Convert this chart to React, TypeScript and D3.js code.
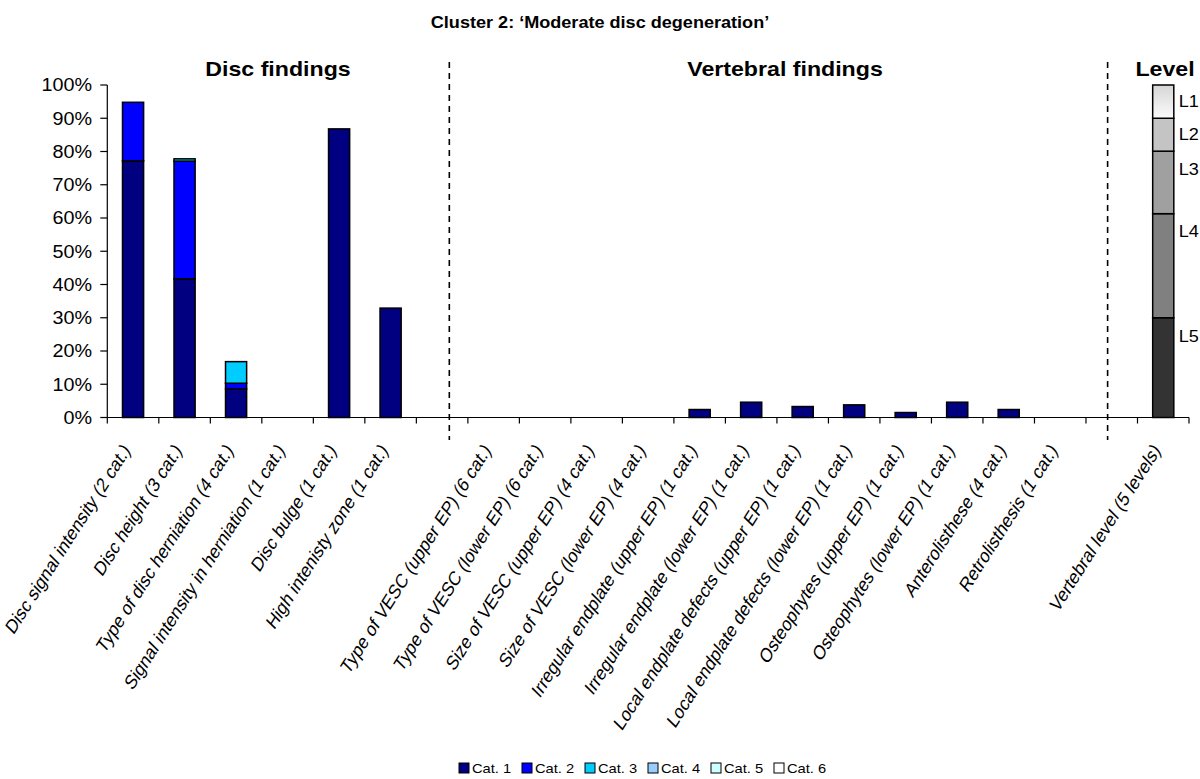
import React from "react";
import * as d3 from "d3";

const discFindings = [
  "Disc signal intensity (2 cat.)",
  "Disc height (3 cat.)",
  "Type of disc herniation (4 cat.)",
  "Signal intensity in herniation (1 cat.)",
  "Disc bulge (1 cat.)",
  "High intenisty zone (1 cat.)",
];
const vertebralFindings = [
  "Type of VESC (upper EP) (6 cat.)",
  "Type of VESC (lower EP) (6 cat.)",
  "Size of VESC (upper EP) (4 cat.)",
  "Size of VESC (lower EP) (4 cat.)",
  "Irregular endplate (upper EP) (1 cat.)",
  "Irregular endplate (lower EP) (1 cat.)",
  "Local endplate defects (upper EP) (1 cat.)",
  "Local endplate defects (lower EP) (1 cat.)",
  "Osteophytes (upper EP) (1 cat.)",
  "Osteophytes (lower EP) (1 cat.)",
  "Anterolisthese (4 cat.)",
  "Retrolisthesis (1 cat.)",
];
const levelCategory = "Vertebral level (5 levels)";

const findings = [...discFindings, ...vertebralFindings];

// values in % per finding (disc then vertebral)
const cat1 = [77.2, 41.7, 8.6, 0, 86.8, 32.9, 0, 0, 0, 0, 2.4, 4.6, 3.3, 3.8, 1.5, 4.6, 2.4, 0];
const cat2 = [17.6, 35.4, 1.7, 0, 0, 0, 0, 0, 0, 0, 0, 0, 0, 0, 0, 0, 0, 0];
const cat3 = [0, 0.7, 6.5, 0, 0, 0, 0, 0, 0, 0, 0, 0, 0, 0, 0, 0, 0, 0];
const cat4 = [0, 0, 0, 0, 0, 0, 0, 0, 0, 0, 0, 0, 0, 0, 0, 0, 0, 0];
const cat5 = [0, 0, 0, 0, 0, 0, 0, 0, 0, 0, 0, 0, 0, 0, 0, 0, 0, 0];
const cat6 = [0, 0, 0, 0, 0, 0, 0, 0, 0, 0, 0, 0, 0, 0, 0, 0, 0, 0];

const seriesNames = ["Cat. 1", "Cat. 2", "Cat. 3", "Cat. 4", "Cat. 5", "Cat. 6"];
const seriesColors = ["#000080", "#0000ff", "#00ccff", "#99ccff", "#ccffff", "#ffffff"];

const levelNames = ["L5", "L4", "L3", "L2", "L1"];
const levelValues = [30, 31.3, 18.8, 9.9, 10];
const levelColors = ["#333333", "#808080", "#a0a0a0", "#c4c4c4", "url(#l1grad)"];

const yTicks = [0, 10, 20, 30, 40, 50, 60, 70, 80, 90, 100];

const FONT = "'Liberation Sans', Arial, Helvetica, sans-serif";
const SX = 1.13; // horizontal stretch of the original figure's text

export default function App() {
  const W = 1200;
  const H = 779;
  const slots = [...discFindings, "gap1", ...vertebralFindings, "gap2", levelCategory];
  const x = d3
    .scaleBand<string>()
    .domain(slots)
    .range([107.3, 1189])
    .paddingInner(0.59)
    .paddingOuter(0.295);
  const step = x.step();
  const x0 = 107.3;
  const y = d3.scaleLinear().domain([0, 100]).range([417.5, 85]);

  const allSeries = [cat1, cat2, cat3, cat4, cat5, cat6];
  const table = findings.map((f, i) => {
    const row: any = { finding: f };
    seriesNames.forEach((s, j) => (row[s] = allSeries[j][i]));
    return row;
  });
  const stacked = d3.stack().keys(seriesNames)(table);

  const levelRow: any = {};
  levelNames.forEach((n, i) => (levelRow[n] = levelValues[i]));
  const levelStack = d3.stack().keys(levelNames)([levelRow]);

  const bw = x.bandwidth();
  const gap1x = (x("gap1") as number) - (step - bw) / 2 + step * 0.64;
  const gap2x = (x("gap2") as number) - (step - bw) / 2 + step * 0.42;

  const legendStart = 459;
  const legendStep = 63;

  const T = (tx: number, ty: number) => `translate(${tx},${ty}) scale(${SX},1)`;

  return (
    <svg
      width={W}
      height={H}
      style={{ position: "absolute", left: 0, top: 0, background: "#fff" }}
      fontFamily={FONT}
    >
      <defs>
        <linearGradient id="l1grad" x1="0" y1="0" x2="0" y2="1">
          <stop offset="0" stopColor="#d6d6d6" />
          <stop offset="1" stopColor="#fbfbfb" />
        </linearGradient>
      </defs>
      <rect x={0} y={0} width={W} height={H} fill="#fff" />
      <text transform={T(600, 28)} textAnchor="middle" fontSize={16} fontWeight="bold">
        Cluster 2: ‘Moderate disc degeneration’
      </text>
      <text transform={T(278, 76)} textAnchor="middle" fontSize={20.5} fontWeight="bold">
        Disc findings
      </text>
      <text transform={T(785, 76)} textAnchor="middle" fontSize={20.5} fontWeight="bold">
        Vertebral findings
      </text>
      <text transform={T(1165, 76)} textAnchor="middle" fontSize={20.5} fontWeight="bold">
        Level
      </text>

      {/* y axis */}
      <line x1={x0} x2={x0} y1={y(100)} y2={y(0)} stroke="#000" strokeWidth={1.2} />
      {yTicks.map((t) => (
        <g key={t}>
          <line x1={x0 - 7} x2={x0} y1={y(t)} y2={y(t)} stroke="#000" strokeWidth={1.2} />
          <text transform={T(92, y(t))} dy="0.36em" textAnchor="end" fontSize={17.5}>
            {t}%
          </text>
        </g>
      ))}

      {/* bars */}
      {stacked.map((s, si) => (
        <g key={si}>
          {s.map((d, i) =>
            d[1] - d[0] > 0 ? (
              <rect
                key={i}
                x={x(findings[i])}
                width={bw}
                y={y(d[1])}
                height={y(d[0]) - y(d[1])}
                fill={seriesColors[si]}
                stroke="#000"
                strokeWidth={1.5}
              />
            ) : null
          )}
        </g>
      ))}

      {/* level bar */}
      {levelStack.map((s, si) => {
        const d = s[0];
        const top = y(d[1]);
        const bot = y(d[0]);
        const ly = Math.min((top + bot) / 2, top + 18);
        return (
          <g key={si}>
            <rect
              x={x(levelCategory)}
              width={bw}
              y={top}
              height={bot - top}
              fill={levelColors[si]}
              stroke="#000"
              strokeWidth={1.5}
            />
            <text transform={T((x(levelCategory) as number) + bw + 5, ly)} dy="0.36em" fontSize={16}>
              {levelNames[si]}
            </text>
          </g>
        );
      })}

      {/* x axis */}
      <line x1={x0} x2={x0 + step * slots.length} y1={y(0)} y2={y(0)} stroke="#000" strokeWidth={1.2} />
      {d3.range(slots.length + 1).map((i) => (
        <line
          key={i}
          x1={x0 + i * step}
          x2={x0 + i * step}
          y1={y(0)}
          y2={y(0) + 6}
          stroke="#000"
          strokeWidth={1.2}
        />
      ))}

      {/* dashed separators */}
      <line x1={gap1x} x2={gap1x} y1={62} y2={440} stroke="#000" strokeWidth={1.6} strokeDasharray="6,5" />
      <line x1={gap2x} x2={gap2x} y1={62} y2={440} stroke="#000" strokeWidth={1.6} strokeDasharray="6,5" />

      {/* category labels */}
      {slots.map((s) =>
        s.startsWith("gap") ? null : (
          <text
            key={s}
            transform={`translate(${(x(s) as number) + bw / 2 - 2},451) rotate(-57.5) skewX(-12)`}
            textAnchor="end"
            fontSize={18}
          >
            {s}
          </text>
        )
      )}

      {/* legend */}
      {seriesNames.map((n, i) => {
        const lx = legendStart + i * legendStep;
        return (
          <g key={n} transform={`translate(${lx},768)`}>
            <rect x={0} y={-5} width={10} height={10} fill={seriesColors[i]} stroke="#000" strokeWidth={1} />
            <text transform={T(13, 0)} dy="0.36em" fontSize={13}>
              {n}
            </text>
          </g>
        );
      })}
    </svg>
  );
}
